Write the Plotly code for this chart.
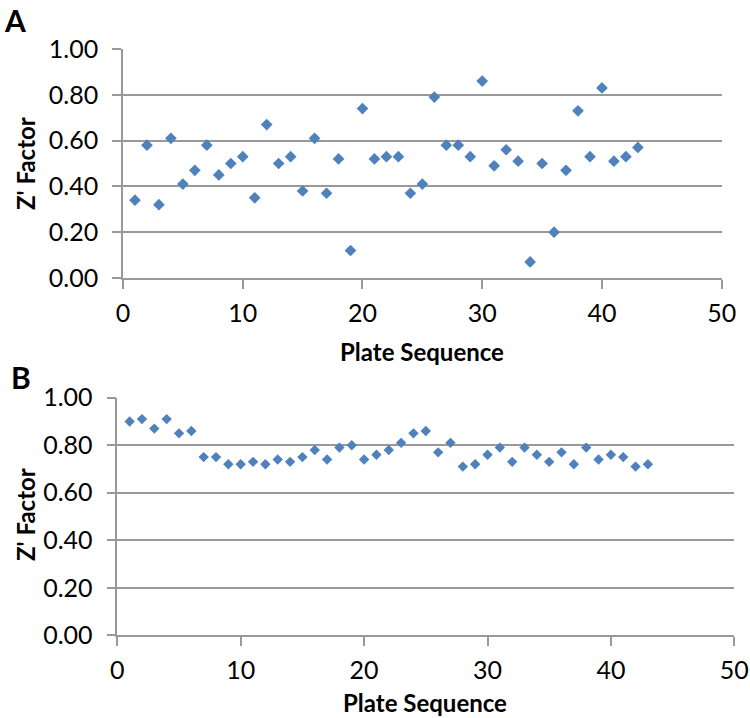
import plotly.graph_objects as go

plates = list(range(1, 44))
z_a = [0.34, 0.58, 0.32, 0.61, 0.41, 0.47, 0.58, 0.45, 0.50, 0.53,
       0.35, 0.67, 0.50, 0.53, 0.38, 0.61, 0.37, 0.52, 0.12, 0.74,
       0.52, 0.53, 0.53, 0.37, 0.41, 0.79, 0.58, 0.58, 0.53, 0.86,
       0.49, 0.56, 0.51, 0.07, 0.50, 0.20, 0.47, 0.73, 0.53, 0.83,
       0.51, 0.53, 0.57]
z_b = [0.90, 0.91, 0.87, 0.91, 0.85, 0.86, 0.75, 0.75, 0.72, 0.72,
       0.73, 0.72, 0.74, 0.73, 0.75, 0.78, 0.74, 0.79, 0.80, 0.74,
       0.76, 0.78, 0.81, 0.85, 0.86, 0.77, 0.81, 0.71, 0.72, 0.76,
       0.79, 0.73, 0.79, 0.76, 0.73, 0.77, 0.72, 0.79, 0.74, 0.76,
       0.75, 0.71, 0.72]
y_ticks = [0.0, 0.2, 0.4, 0.6, 0.8, 1.0]
y_labels = ["0.00", "0.20", "0.40", "0.60", "0.80", "1.00"]
x_ticks = [0, 10, 20, 30, 40, 50]

W, H = 750, 718
FONT = "Lato, Carlito, Calibri, sans-serif"
BLUE = "#4F81BD"
GRID = "#999999"


def fx(px):
    return px / W


def fy(py):
    return 1 - py / H


fig = go.Figure()
fig.add_trace(go.Scatter(x=plates, y=z_a, mode="markers", xaxis="x", yaxis="y",
                         marker=dict(symbol="diamond", size=9, color=BLUE),
                         showlegend=False))
fig.add_trace(go.Scatter(x=plates, y=z_b, mode="markers", xaxis="x2", yaxis="y2",
                         marker=dict(symbol="diamond", size=8, color=BLUE),
                         showlegend=False))

xcommon = dict(range=[0, 50], tickvals=x_ticks, showgrid=False, showline=True,
               linecolor=GRID, linewidth=1.5, ticks="outside", ticklen=9,
               tickcolor=GRID, tickwidth=1.5, zeroline=False, automargin=False,
               ticklabelstandoff=3,
               tickfont=dict(family=FONT, size=25, color="black"))
ycommon = dict(range=[0, 1], tickvals=y_ticks, ticktext=y_labels, showgrid=True,
               gridcolor=GRID, gridwidth=1.5, showline=True, linecolor=GRID,
               linewidth=1.5, ticks="outside", ticklen=9, tickcolor=GRID,
               tickwidth=1.5, zeroline=False, automargin=False,
               ticklabelstandoff=9,
               tickfont=dict(family=FONT, size=25, color="black"))


def px_ann(text, x, y, size, angle=0):
    return dict(text=text, x=fx(x), y=fy(y), xref="paper", yref="paper",
                xanchor="center", yanchor="middle", showarrow=False,
                textangle=angle, font=dict(family=FONT, size=size, color="black"))


fig.update_layout(
    width=W, height=H,
    margin=dict(l=0, r=0, t=0, b=0, autoexpand=False),
    paper_bgcolor="white", plot_bgcolor="white",
    xaxis=dict(domain=[fx(123), fx(721.7)], anchor="y", **xcommon),
    yaxis=dict(domain=[fy(278), fy(49)], anchor="x", **ycommon),
    xaxis2=dict(domain=[fx(117.3), fx(734.3)], anchor="y2", **xcommon),
    yaxis2=dict(domain=[fy(635.3), fy(397.7)], anchor="x2", **ycommon),
    annotations=[
        px_ann("<b>A</b>", 15, 20, 30),
        px_ann("<b>B</b>", 21, 377, 30),
        px_ann("<b>Z' Factor</b>", 25, 164, 24, -90),
        px_ann("<b>Z' Factor</b>", 25, 515, 24, -90),
        px_ann("<b>Plate Sequence</b>", 422, 352, 24),
        px_ann("<b>Plate Sequence</b>", 425, 702, 24),
    ],
)

fig.write_html(
    "out.html",
    config={"displayModeBar": False},
    post_script="document.body.style.margin='0';document.body.style.overflow='hidden';",
)
